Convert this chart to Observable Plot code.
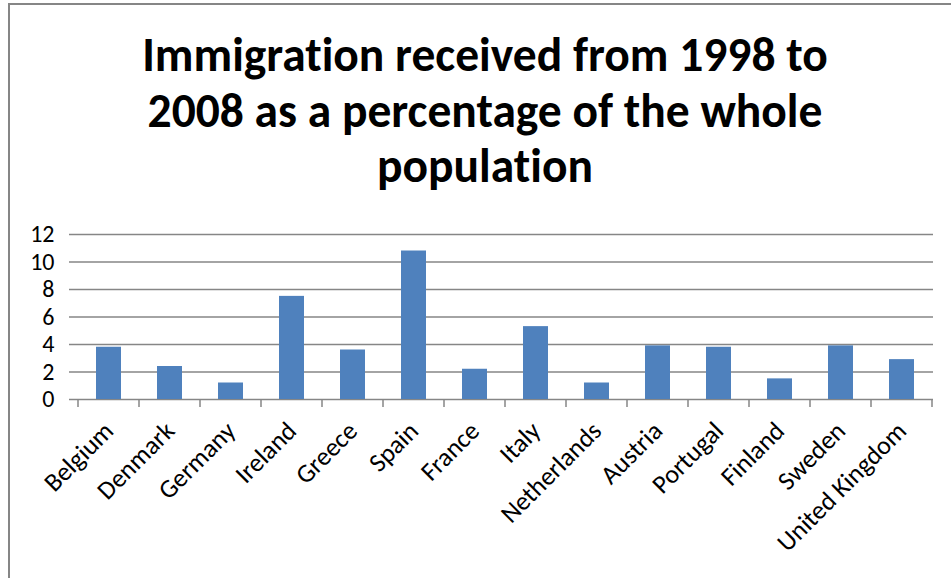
<!DOCTYPE html>
<html>
<head>
<meta charset="utf-8">
<script src="https://cdn.jsdelivr.net/npm/d3@7"></script>
<script src="https://cdn.jsdelivr.net/npm/@observablehq/plot@0.6"></script>
<style>
  html, body { margin: 0; padding: 0; background: #fff; }
  #wrap { position: relative; width: 951px; height: 578px; overflow: hidden;
          font-variant-ligatures: none; font-feature-settings: "liga" 0, "clig" 0; }
  #frame { position: absolute; left: 8px; top: 3px; width: 1000px; height: 700px;
           border-top: 2px solid #868686; border-left: 2px solid #868686; box-sizing: border-box; }
  #title { position: absolute; left: 0; top: 28px; width: 970px; text-align: center;
           font-family: Carlito, Lato, sans-serif; font-weight: bold; font-size: 47.5px;
           line-height: 55.6px; color: #000; }
  #chart { position: absolute; left: 0; top: 0; }
  #chart svg text { font-variant-ligatures: none; }
</style>
</head>
<body>
<div id="wrap">
  <div id="frame"></div>
  <div id="chart"></div>
  <div id="title">Immigration received from 1998 to<br>2008 as a percentage of the whole<br>population</div>
</div>
<script>
const countries = ["Belgium","Denmark","Germany","Ireland","Greece","Spain","France","Italy","Netherlands","Austria","Portugal","Finland","Sweden","United Kingdom"];
const values = [3.8, 2.4, 1.2, 7.5, 3.6, 10.8, 2.2, 5.3, 1.2, 3.9, 3.8, 1.5, 3.9, 2.9];
const yTicks = [0, 2, 4, 6, 8, 10, 12];

const data = countries.map((c, i) => ({country: c, value: values[i]}));
const gray = "#868686";

// tick marks at band boundaries on the category axis
function bandTicks(index, scales) {
  const x = scales.x, y = scales.y;
  const step = x.step(), bw = x.bandwidth();
  const off = (step - bw) / 2;
  const xs = countries.map(c => x(c) - off);
  xs.push(x(countries[countries.length - 1]) + bw + off);
  const y0 = y(0);
  const g = d3.create("svg:g").attr("stroke", gray).attr("stroke-width", 1.5);
  for (const px of xs) {
    g.append("line").attr("x1", px).attr("x2", px).attr("y1", y0).attr("y2", y0 + 8);
  }
  return g.node();
}

const chart = Plot.plot({
  width: 951,
  height: 578,
  marginLeft: 77,
  marginRight: 18,
  marginTop: 234,
  marginBottom: 179,
  style: {fontFamily: "Carlito, Lato, sans-serif", background: "transparent", color: "#000"},
  x: {domain: countries, paddingInner: 0.59, paddingOuter: 0.295, axis: null},
  y: {domain: [0, 12]},
  marks: [
    Plot.ruleY(yTicks, {stroke: gray, strokeWidth: 1.5}),
    Plot.axisY(yTicks, {tickSize: 8, tickPadding: 15, fontSize: 24, stroke: gray, strokeWidth: 1.5, fill: "#000", label: null}),
    Plot.barY(data, {x: "country", y: "value", fill: "#4F81BD"}),
    bandTicks,
    Plot.text(data, {x: "country", frameAnchor: "bottom", text: "country", rotate: -45,
                     textAnchor: "end", dx: 6, dy: 33, fontSize: 26, fill: "#000"})
  ]
});
document.getElementById("chart").appendChild(chart);
</script>
</body>
</html>
